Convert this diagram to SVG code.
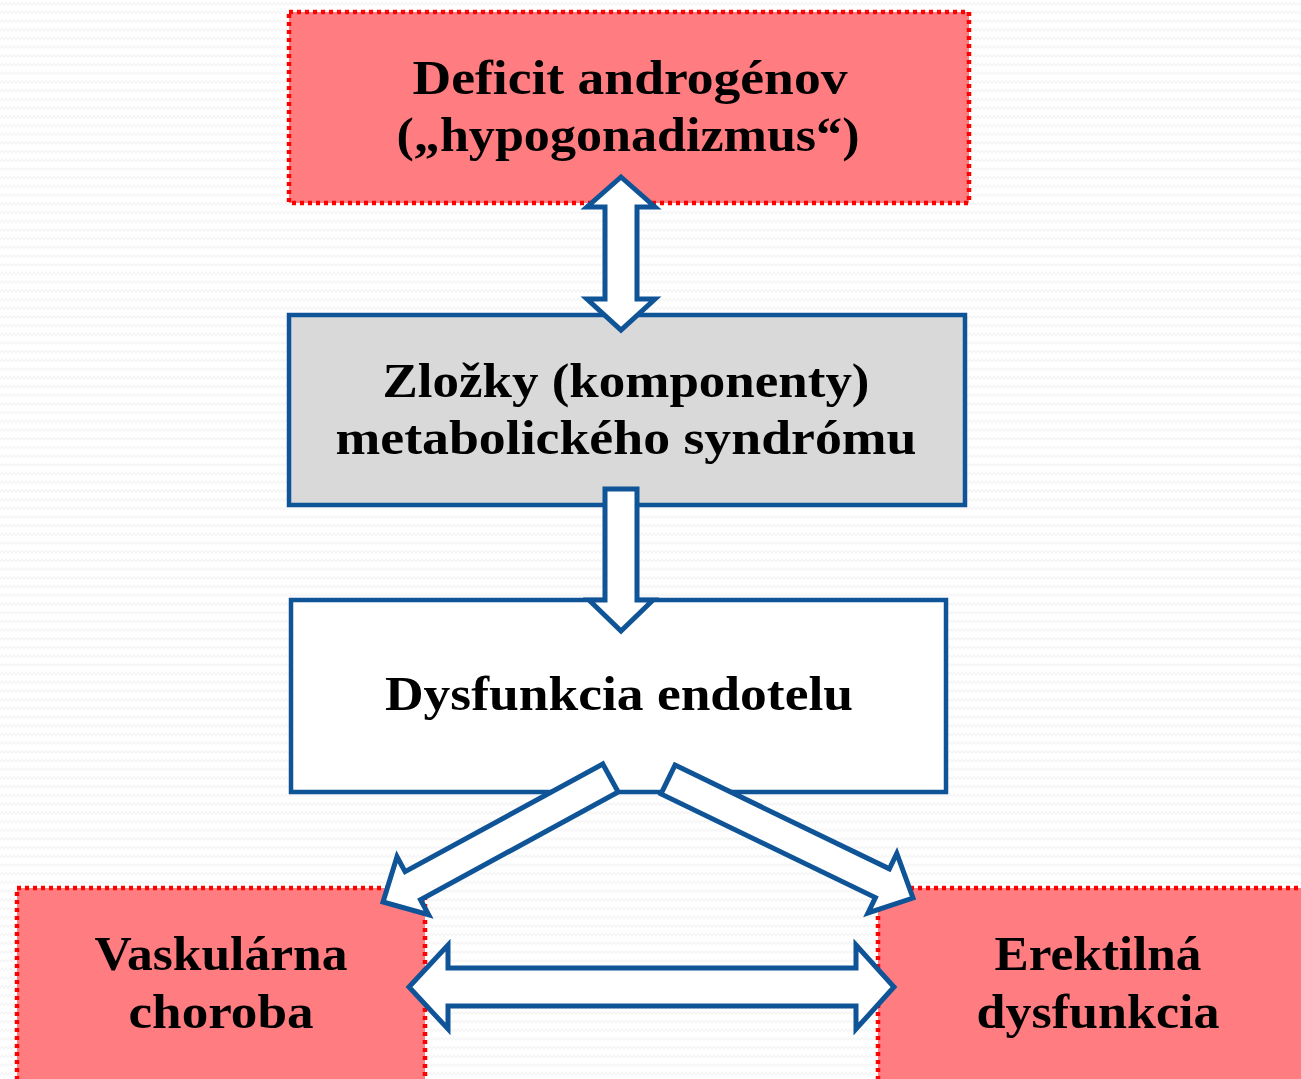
<svg xmlns="http://www.w3.org/2000/svg" width="1301" height="1079" viewBox="0 0 1301 1079">
<defs>
<pattern id="zig" width="8" height="8.7" patternUnits="userSpaceOnUse">
<polyline points="0,5 2,2.5 4,5 6,2.5 8,5" fill="none" stroke="#f2f2f2" stroke-width="1"/>
</pattern>
</defs>
<style>
.red{fill:#FF7C80;stroke:#FF0000;stroke-width:4.5;stroke-dasharray:4 4;}
.blue{stroke:#0E5497;stroke-width:4.5;}
.arr{fill:#FFFFFF;stroke:#0E5497;stroke-width:5;stroke-linejoin:miter;}
text{font-family:"Liberation Serif","Times New Roman",serif;font-weight:bold;font-size:48px;fill:#000000;text-anchor:middle;}
</style>
<rect x="0" y="0" width="1301" height="1079" fill="#FFFFFF"/>
<rect x="0" y="0" width="1301" height="1079" fill="url(#zig)"/>
<g id="node-deficit">
<rect class="red" x="289" y="12" width="680" height="191"/>
<text x="630" y="94" textLength="435" lengthAdjust="spacingAndGlyphs">Deficit androgénov</text>
<text x="628" y="151" textLength="463" lengthAdjust="spacingAndGlyphs">(„hypogonadizmus“)</text>
</g>
<g id="node-zlozky">
<rect class="blue" x="289" y="315" width="676" height="190" fill="#D9D9D9"/>
<text x="626" y="397" textLength="487" lengthAdjust="spacingAndGlyphs">Zložky (komponenty)</text>
<text x="626" y="454" textLength="581" lengthAdjust="spacingAndGlyphs">metabolického syndrómu</text>
</g>
<g id="node-dysfunkcia">
<rect class="blue" x="291" y="600" width="655" height="192" fill="#FFFFFF"/>
<text x="619" y="710" textLength="468" lengthAdjust="spacingAndGlyphs">Dysfunkcia endotelu</text>
</g>
<g id="node-vaskularna">
<rect class="red" x="17" y="888" width="408" height="200"/>
<text x="221" y="970" textLength="253" lengthAdjust="spacingAndGlyphs">Vaskulárna</text>
<text x="221" y="1028" textLength="185" lengthAdjust="spacingAndGlyphs">choroba</text>
</g>
<g id="node-erektilna">
<rect class="red" x="878" y="888" width="440" height="200"/>
<text x="1098" y="970" textLength="207" lengthAdjust="spacingAndGlyphs">Erektilná</text>
<text x="1098" y="1028" textLength="243" lengthAdjust="spacingAndGlyphs">dysfunkcia</text>
</g>
<g id="connectors">
<polygon class="arr" points="621,177 655,207 637,207 637,299 655,299 621,330 587,299 605,299 605,207 587,207"/>
<polygon class="arr" points="605,489 637,489 637,600 653,600 621,631 589,600 605,600"/>
<polygon class="arr" points="602.8,764 405.1,871.7 397,856.7 383,902 428.6,914.7 420.5,899.7 618.2,792"/>
<polygon class="arr" points="675,765.1 889.4,868.8 896.8,853.5 913,898 868,912.9 875.4,897.6 661,793.9"/>
<polygon class="arr" points="409,987 448,945 448,968 856,968 856,945 894,987 856,1029 856,1006 448,1006 448,1029"/>
</g>
</svg>
